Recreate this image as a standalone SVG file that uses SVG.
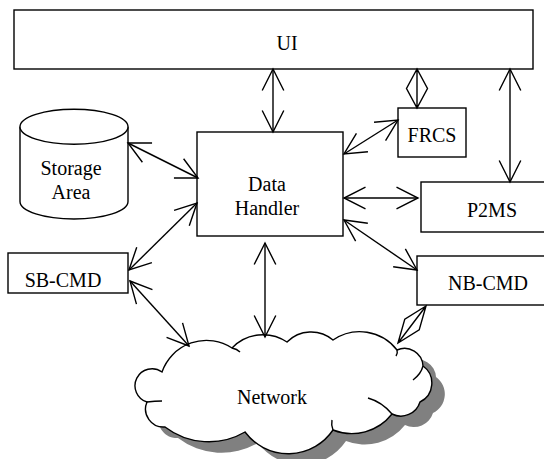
<svg xmlns="http://www.w3.org/2000/svg" width="544" height="459" viewBox="0 0 544 459">
<style>
.box{fill:#fff;stroke:#000;stroke-width:1.4}
.t{font-family:"Liberation Serif","Times New Roman",serif;font-size:20px;fill:#000;text-anchor:middle}
.c{fill:none;stroke:#000;stroke-width:1.4;marker-start:url(#ah);marker-end:url(#ah)}
.d{fill:none;stroke:#000;stroke-width:1.4}
.tail{fill:none;stroke:#000;stroke-width:1.4}
</style>
<defs>
<marker id="ah" markerUnits="userSpaceOnUse" orient="auto-start-reverse" refX="0" refY="0" markerWidth="30" markerHeight="30" overflow="visible">
<path d="M-21.5,-10.8 L0,0 L-21.5,10.8" fill="none" stroke="#000" stroke-width="1.4"/>
</marker>
<path id="cloud" d="M162,372 A47,47 0 0 1 232,348 A43,43 0 0 1 287,342 A34,34 0 0 1 333,340 A47,47 0 0 1 397,350 A18.5,18.5 0 0 1 423,366 A21,21 0 0 1 420,402 A20,20 0 0 1 392,414 A51,51 0 0 1 333,430 A54,54 0 0 1 245,432 A72,72 0 0 1 165,427 A18,18 0 0 1 147,402 A17,17 0 1 1 162,372 Z"/>
</defs>

<g id="network">
<use href="#cloud" transform="translate(13,11)" fill="#808080"/>
<use href="#cloud" fill="#fff" stroke="#000" stroke-width="1.4"/>
<path class="tail" d="M232,348 Q237,349 240,352"/>
<path class="tail" d="M147,402 Q155,401 162,401"/>
<path class="tail" d="M392,414 Q382,402 368,398"/>
<path class="tail" d="M333,430 Q331,425 332,420"/>
<path class="tail" d="M423,366 Q421,374 413,380"/>
<path class="tail" d="M397,350 Q398,353 396,356"/>
<text class="t" x="272" y="404">Network</text>
</g>

<g id="ui">
<rect class="box" x="14" y="10" width="519" height="59"/>
<text class="t" x="287" y="50">UI</text>
</g>

<g id="storage">
<path class="box" d="M20,126.8 L20,201.5 A54,17.5 0 0 0 128,201.5 L128,126.8"/>
<ellipse class="box" cx="74" cy="126.8" rx="54" ry="17.5"/>
<text class="t" x="71" y="175">Storage</text>
<text class="t" x="71" y="199">Area</text>
</g>

<g id="datahandler">
<rect class="box" x="197" y="132" width="146" height="104"/>
<text class="t" x="267" y="191">Data</text>
<text class="t" x="267" y="215">Handler</text>
</g>

<g id="frcs">
<rect class="box" x="398" y="108" width="68" height="49"/>
<text class="t" x="432" y="142">FRCS</text>
</g>

<g id="p2ms">
<rect class="box" x="421" y="182" width="130" height="50"/>
<text class="t" x="492" y="217">P2MS</text>
</g>

<g id="nbcmd">
<rect class="box" x="417" y="256" width="135" height="49"/>
<text class="t" x="488" y="290">NB-CMD</text>
</g>

<g id="sbcmd">
<rect class="box" x="8" y="253" width="120" height="40"/>
<text class="t" x="63" y="287">SB-CMD</text>
</g>

<g id="connectors">
<path class="c" d="M273,69 L273,132"/>
<path class="d" d="M417,69 L417,108 M417,69 L406.5,88.5 L417,108 L427.5,88.5 Z"/>
<path class="c" d="M510,69 L510,182"/>
<path class="c" d="M128,143 L198,178"/>
<path class="c" d="M129,270 L197,203"/>
<path class="c" d="M344,154 L398,120"/>
<path class="c" d="M344,198 L418,198"/>
<path class="c" d="M344,220 L417,270"/>
<path class="c" d="M265,243 L265,337"/>
<path class="c" d="M130,281 L189,346"/>
<path class="d" d="M426,306 L398,343 M426,306 L404.8,319.1 L398,343 L419.2,329.9 Z"/>
</g>
</svg>
